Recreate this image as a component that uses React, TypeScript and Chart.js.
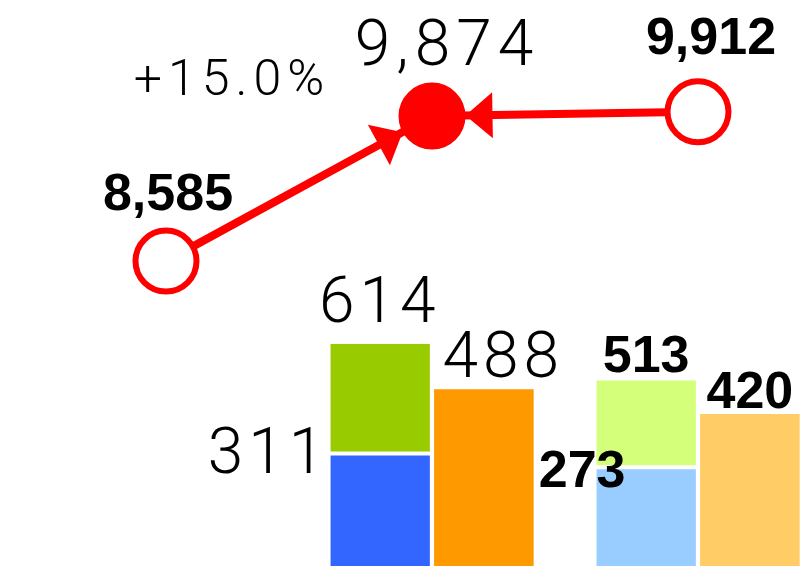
import React, { useEffect, useRef } from 'react';
import { Chart, registerables } from 'chart.js';

Chart.register(...registerables);

// ---- data ----
const categories = ['Base', 'Current', 'Reference'];
const lineValues = [8585, 9874, 9912];
const lowerValues = [null, 311, 273];
const totalValues = [null, 614, 513];
const sideValues = [null, 488, 420];
const boldCategory = [true, false, true];

// ---- styles ----
const RED = '#FF0000';
const lowerColors = ['rgba(0,0,0,0)', '#3366FF', '#99CCFF'];
const upperColors = ['rgba(0,0,0,0)', '#99CC00', '#D3FF7A'];
const sideColors = ['rgba(0,0,0,0)', '#FF9900', '#FFCC66'];

const W = 807;
const H = 566;

const fmt = (v: number) => v.toLocaleString('en-US');

function drawText(
  ctx: CanvasRenderingContext2D,
  text: string,
  x: number,
  y: number,
  bold: boolean,
  size: number,
  align: 'left' | 'center' | 'right' = 'center',
  spacing = 0
) {
  ctx.save();
  ctx.font = bold
    ? `bold ${size}px "Liberation Sans", Arial, sans-serif`
    : `300 ${size}px Roboto, "Noto Sans", sans-serif`;
  (ctx as any).letterSpacing = `${spacing}px`;
  ctx.fillStyle = '#000000';
  ctx.textBaseline = 'alphabetic';
  ctx.textAlign = 'left';
  const w = ctx.measureText(text).width - spacing;
  let left = x;
  if (align === 'center') left = x - w / 2;
  else if (align === 'right') left = x - w;
  ctx.fillText(text, left, y);
  ctx.restore();
}

const LINE_DS = 3;

const annotationPlugin = {
  id: 'annotations',
  afterDatasetsDraw(chart: any) {
    const ctx: CanvasRenderingContext2D = chart.ctx;
    const pts = chart.getDatasetMeta(LINE_DS).data;
    // arrowheads pointing to middle point
    const c = pts[1];
    const R = 33.5;
    ctx.save();
    ctx.fillStyle = RED;
    for (const p of [pts[0], pts[2]]) {
      const dx = c.x - p.x;
      const dy = c.y - p.y;
      const L = Math.hypot(dx, dy);
      const ux = dx / L;
      const uy = dy / L;
      const tx = c.x - ux * R;
      const ty = c.y - uy * R;
      const bx = tx - ux * 27;
      const by = ty - uy * 27;
      const px = -uy;
      const py = ux;
      ctx.beginPath();
      ctx.moveTo(tx, ty);
      ctx.lineTo(bx + px * 23, by + py * 23);
      ctx.lineTo(bx - px * 23, by - py * 23);
      ctx.closePath();
      ctx.fill();
    }
    ctx.restore();

    // line labels
    const lineOffsets = [
      [2, -51],
      [12, -51],
      [13, -58],
    ];
    pts.forEach((p: any, i: number) => {
      const bold = boldCategory[i];
      drawText(
        ctx,
        fmt(lineValues[i]),
        p.x + lineOffsets[i][0],
        p.y + lineOffsets[i][1],
        bold,
        bold ? 52 : 64,
        'center',
        bold ? 0 : 6
      );
    });

    // change label
    const change = ((lineValues[1] / lineValues[0] - 1) * 100).toFixed(1);
    drawText(ctx, `+${change}%`, c.x - 203, c.y - 21, false, 50, 'center', 6);

    // bar labels
    const lower = chart.getDatasetMeta(0).data;
    const upper = chart.getDatasetMeta(1).data;
    const side = chart.getDatasetMeta(2).data;
    for (let i = 1; i < categories.length; i++) {
      const bold = boldCategory[i];
      const size = bold ? 52 : 64;
      const sp = bold ? 0 : 5;
      const lo = lower[i];
      const up = upper[i];
      const sd = side[i];
      if (bold) {
        drawText(ctx, fmt(lowerValues[i] as number), lo.x - 64, lo.y + 20, true, size, 'center', sp);
        drawText(ctx, fmt(totalValues[i] as number), up.x, up.y - 8, true, size, 'center', sp);
        drawText(ctx, fmt(sideValues[i] as number), sd.x, sd.y - 6, true, size, 'center', sp);
      } else {
        drawText(ctx, fmt(lowerValues[i] as number), lo.x - lo.width / 2 - 6, lo.y + 20, false, size, 'right', sp);
        drawText(ctx, fmt(totalValues[i] as number), up.x - 3, up.y - 22, false, size, 'center', sp);
        drawText(ctx, fmt(sideValues[i] as number), sd.x + 17, sd.y - 12, false, size, 'center', sp);
      }
    }
  },
};

export default function App() {
  const ref = useRef<HTMLCanvasElement | null>(null);

  useEffect(() => {
    if (!ref.current) return;
    const upperSegments = totalValues.map((t, i) =>
      t === null || lowerValues[i] === null ? null : (t as number) - (lowerValues[i] as number)
    );
    const chart = new Chart(ref.current, {
      type: 'bar',
      data: {
        labels: categories,
        datasets: [
          {
            type: 'bar',
            label: 'lower',
            data: lowerValues as any,
            stack: 'main',
            yAxisID: 'y',
            backgroundColor: lowerColors,
            borderColor: '#FFFFFF',
            borderWidth: { top: 2, right: 0, bottom: 0, left: 0 } as any,
            borderSkipped: false,
            clip: false as any,
          },
          {
            type: 'bar',
            label: 'upper',
            data: upperSegments as any,
            stack: 'main',
            yAxisID: 'y',
            backgroundColor: upperColors,
            borderColor: '#FFFFFF',
            borderWidth: { top: 0, right: 0, bottom: 2, left: 0 } as any,
            borderSkipped: false,
            clip: false as any,
          },
          {
            type: 'bar',
            label: 'side',
            data: sideValues as any,
            stack: 'side',
            yAxisID: 'y',
            backgroundColor: sideColors,
            borderWidth: 0,
            clip: false as any,
          },
          {
            type: 'line',
            label: 'total',
            data: lineValues,
            yAxisID: 'y2',
            borderColor: RED,
            borderWidth: 8,
            pointRadius: 30.5,
            pointBorderWidth: 6,
            pointBorderColor: RED,
            pointBackgroundColor: ['#FFFFFF', RED, '#FFFFFF'],
            tension: 0,
            clip: false as any,
          } as any,
        ],
      },
      options: {
        animation: false,
        responsive: false,
        events: [],
        layout: { autoPadding: false, padding: { left: 166, right: 109, top: 0, bottom: 0 } },
        plugins: { legend: { display: false }, tooltip: { enabled: false } },
        datasets: { bar: { categoryPercentage: 0.78, barPercentage: 0.96 } },
        scales: {
          x: { type: 'category', offset: false, display: false, grid: { display: false } },
          y: { display: false, min: 0, max: 1563, grid: { display: false } },
          y2: { display: false, min: 5875, max: 10906, grid: { display: false } },
        },
      } as any,
      plugins: [annotationPlugin],
    });
    return () => chart.destroy();
  }, []);

  return (
    <div style={{ position: 'fixed', left: 0, top: 0, width: W, height: H, background: '#FFFFFF' }}>
      <canvas ref={ref} width={W} height={H} style={{ display: 'block', width: W, height: H }} />
    </div>
  );
}
